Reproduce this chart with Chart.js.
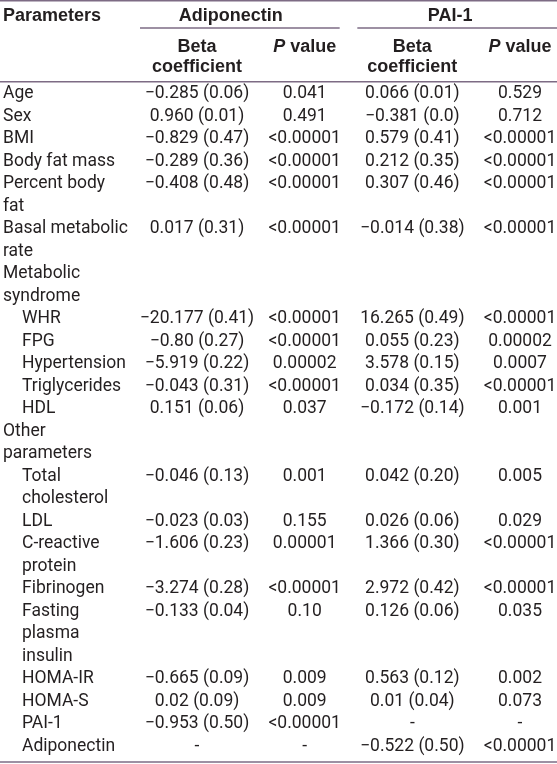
<!DOCTYPE html>
<html lang="en">
<head>
    <meta charset="UTF-8">
    <title>Adiponectin and PAI-1 regression table</title>
    <script src="https://cdn.jsdelivr.net/npm/chart.js"></script>
    <style>
        html, body { margin: 0; padding: 0; background: #fff; }
        .table-box { position: relative; width: 557px; height: 764px; }
    </style>
</head>
<body>
    <div class="table-box">
        <canvas id="tabela"></canvas>
    </div>

<script>
    // dados da tabela
    const colunas = ['Adiponectin beta', 'Adiponectin P', 'PAI-1 beta', 'PAI-1 P'];
    const grupos = ['Adiponectin', 'PAI-1'];

    const parametros = [
        ['Age'], ['Sex'], ['BMI'], ['Body fat mass'],
        ['Percent body', 'fat'], ['Basal metabolic', 'rate'],
        ['Metabolic', 'syndrome'],
        ['WHR'], ['FPG'], ['Hypertension'], ['Triglycerides'], ['HDL'],
        ['Other', 'parameters'],
        ['Total', 'cholesterol'], ['LDL'], ['C-reactive', 'protein'], ['Fibrinogen'],
        ['Fasting', 'plasma', 'insulin'],
        ['HOMA-IR'], ['HOMA-S'], ['PAI-1'], ['Adiponectin']
    ];
    const subitem = [0, 0, 0, 0, 0, 0, 0, 1, 1, 1, 1, 1, 0, 1, 1, 1, 1, 1, 1, 1, 1, 1];

    const adipoBeta = ['−0.285 (0.06)', '0.960 (0.01)', '−0.829 (0.47)', '−0.289 (0.36)', '−0.408 (0.48)', '0.017 (0.31)', '',
        '−20.177 (0.41)', '−0.80 (0.27)', '−5.919 (0.22)', '−0.043 (0.31)', '0.151 (0.06)', '',
        '−0.046 (0.13)', '−0.023 (0.03)', '−1.606 (0.23)', '−3.274 (0.28)', '−0.133 (0.04)',
        '−0.665 (0.09)', '0.02 (0.09)', '−0.953 (0.50)', '-'];
    const adipoP = ['0.041', '0.491', '<0.00001', '<0.00001', '<0.00001', '<0.00001', '',
        '<0.00001', '<0.00001', '0.00002', '<0.00001', '0.037', '',
        '0.001', '0.155', '0.00001', '<0.00001', '0.10',
        '0.009', '0.009', '<0.00001', '-'];
    const paiBeta = ['0.066 (0.01)', '−0.381 (0.0)', '0.579 (0.41)', '0.212 (0.35)', '0.307 (0.46)', '−0.014 (0.38)', '',
        '16.265 (0.49)', '0.055 (0.23)', '3.578 (0.15)', '0.034 (0.35)', '−0.172 (0.14)', '',
        '0.042 (0.20)', '0.026 (0.06)', '1.366 (0.30)', '2.972 (0.42)', '0.126 (0.06)',
        '0.563 (0.12)', '0.01 (0.04)', '-', '−0.522 (0.50)'];
    const paiP = ['0.529', '0.712', '<0.00001', '<0.00001', '<0.00001', '<0.00001', '',
        '<0.00001', '0.00002', '0.0007', '<0.00001', '0.001', '',
        '0.005', '0.029', '<0.00001', '<0.00001', '0.035',
        '0.002', '0.073', '-', '<0.00001'];

    const totalLinhas = parametros.reduce((s, p) => s + p.length, 0);

    const corTexto = '#231f20';
    const corLinha = '#7d6b84';
    const fonteCorpo = '17.5px Roboto, "Liberation Sans", sans-serif';
    const fonteCab = 'bold 18px "Liberation Sans", Arial, sans-serif';

    // desenha a tabela usando as escalas do grafico
    const tabelaPlugin = {
        id: 'tabela',
        afterDraw(chart) {
            const ctx = chart.ctx;
            const x = chart.scales.x;
            const y = chart.scales.y;
            const topo = chart.chartArea.top;
            const W = chart.width;

            ctx.save();
            ctx.fillStyle = corTexto;
            ctx.textBaseline = 'middle';

            // linhas horizontais
            ctx.strokeStyle = corLinha;
            ctx.lineWidth = 1.5;
            function linha(x1, x2, yy) {
                ctx.beginPath();
                ctx.moveTo(x1, yy);
                ctx.lineTo(x2, yy);
                ctx.stroke();
            }
            linha(0, W, 0.75);
            linha(0, W, topo - 1);
            linha(0, W, chart.height - 2);
            linha(x.getPixelForValue(0) - 57, x.getPixelForValue(1) + 35, 28);
            linha(x.getPixelForValue(2) - 55, W, 28);

            // cabecalho
            ctx.font = fonteCab;
            ctx.textAlign = 'left';
            ctx.fillText('Parameters', 3, 16);
            ctx.textAlign = 'center';
            ctx.fillText(grupos[0], (x.getPixelForValue(0) + x.getPixelForValue(1)) / 2 - 20, 16);
            ctx.fillText(grupos[1], (x.getPixelForValue(2) + x.getPixelForValue(3)) / 2 - 16, 16);

            [0, 2].forEach(i => {
                const cx = x.getPixelForValue(i);
                ctx.fillText('Beta', cx, 47);
                ctx.fillText('coefficient', cx, 67.5);
            });
            [1, 3].forEach(i => {
                const cx = x.getPixelForValue(i);
                ctx.font = 'italic ' + fonteCab;
                const wP = ctx.measureText('P').width;
                ctx.font = fonteCab;
                const wV = ctx.measureText(' value').width;
                const x0 = cx - (wP + wV) / 2;
                ctx.textAlign = 'left';
                ctx.font = 'italic ' + fonteCab;
                ctx.fillText('P', x0, 47);
                ctx.font = fonteCab;
                ctx.fillText(' value', x0 + wP, 47);
                ctx.textAlign = 'center';
            });

            // corpo
            ctx.font = fonteCorpo;
            let l = 0;
            parametros.forEach((p, r) => {
                const yy = y.getPixelForValue(l + 0.5);
                ctx.textAlign = 'left';
                p.forEach((txt, k) => {
                    ctx.fillText(txt, subitem[r] ? 22 : 3, y.getPixelForValue(l + k + 0.5));
                });
                ctx.textAlign = 'center';
                [adipoBeta, adipoP, paiBeta, paiP].forEach((serie, c) => {
                    if (serie[r]) ctx.fillText(serie[r], x.getPixelForValue(c), yy);
                });
                l += p.length;
            });
            ctx.restore();
        }
    };

    const ctx = document.getElementById('tabela').getContext('2d');
    new Chart(ctx, {
        type: 'line',
        data: {
            labels: colunas,
            datasets: []
        },
        options: {
            responsive: true,
            maintainAspectRatio: false,
            animation: false,
            events: [],
            layout: {
                padding: { top: 82.75, bottom: 6.25, left: 197, right: 37 }
            },
            plugins: {
                legend: { display: false },
                tooltip: { enabled: false }
            },
            scales: {
                x: { type: 'category', offset: false, display: false },
                y: { type: 'linear', min: 0, max: totalLinhas, reverse: true, display: false }
            }
        },
        plugins: [tabelaPlugin]
    });
</script>
</body>
</html>
